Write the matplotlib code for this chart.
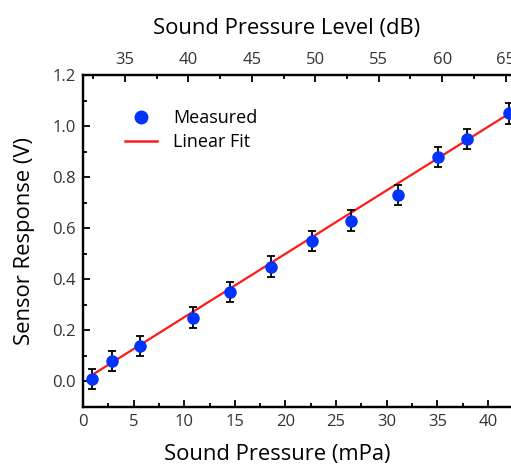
import numpy as np
import matplotlib
matplotlib.use("Agg")
import matplotlib.pyplot as plt
from matplotlib.ticker import MultipleLocator, FormatStrFormatter
from matplotlib.lines import Line2D

plt.rcParams['font.family'] = ['Open Sans', 'DejaVu Sans']

pressure_mpa = [0.9, 2.9, 5.6, 10.9, 14.5, 18.6, 22.6, 26.5, 31.1, 35.1, 37.9, 42.1]
response_v = [0.01, 0.08, 0.14, 0.25, 0.35, 0.45, 0.55, 0.63, 0.73, 0.88, 0.95, 1.05]
response_err = [0.04] * 12
fit_slope = 0.02485
fit_intercept = 0.003
bottom_ticks = [0, 5, 10, 15, 20, 25, 30, 35, 40]
top_ticks = [35, 40, 45, 50, 55, 60, 65]

fig = plt.figure(figsize=(5.11, 4.66), dpi=100)
ax = fig.add_axes([0.1624, 0.1266, 0.8916, 0.7124])

blue = '#0033ff'
red = '#ff1a1a'
x = np.array(pressure_mpa)
ax.plot(x, fit_intercept + fit_slope * x, color=red, lw=1.6, zorder=2)
ax.errorbar(x, response_v, yerr=response_err, fmt='o', color=blue, ms=8,
            ecolor='black', elinewidth=1.3, capsize=2.8, capthick=1.3, zorder=3)

ax.set_xlim(0, 45)
ax.set_ylim(-0.1, 1.2)
ax.set_xticks(bottom_ticks)
ax.xaxis.set_minor_locator(MultipleLocator(2.5))
ax.yaxis.set_major_locator(MultipleLocator(0.2))
ax.yaxis.set_minor_locator(MultipleLocator(0.1))
ax.yaxis.set_major_formatter(FormatStrFormatter('%.1f'))
ax.tick_params(which='both', direction='in', width=1.3, labelsize=12, labelcolor='#333333', pad=5)
ax.tick_params(which='major', length=5)
ax.tick_params(which='minor', length=3)
ax.tick_params(axis='x', which='both', top=False)
for s in ax.spines.values():
    s.set_linewidth(1.6)

ax.set_xlabel('Sound Pressure (mPa)', fontsize=15.8)
ax.xaxis.set_label_coords(0.427, -0.11)
ax.set_ylabel('Sensor Response (V)', fontsize=15.8)
ax.yaxis.set_label_coords(-0.105, 0.5)

handles = [Line2D([], [], ls='none', marker='o', color=blue, ms=9),
           Line2D([], [], color=red, lw=1.8)]
ax.legend(handles, ['Measured', 'Linear Fit'], loc='upper left', bbox_to_anchor=(0.092, 0.898),
          frameon=False, fontsize=13, handlelength=1.78, handletextpad=0.9,
          borderpad=0, borderaxespad=0, labelspacing=0.35)

top = ax.twiny()
top.set_xlim(31.7, 67.6)
top.set_xticks(top_ticks)
top.xaxis.set_minor_locator(MultipleLocator(2.5))
top.tick_params(which='both', direction='in', width=1.3, labelsize=12, labelcolor='#333333', pad=5)
top.tick_params(which='major', length=5)
top.tick_params(which='minor', length=3)
top.set_xlabel('Sound Pressure Level (dB)', fontsize=15.8)
top.xaxis.set_label_coords(0.447, 1.125)
for s in top.spines.values():
    s.set_linewidth(1.6)

fig.savefig('out.png', dpi=100)
